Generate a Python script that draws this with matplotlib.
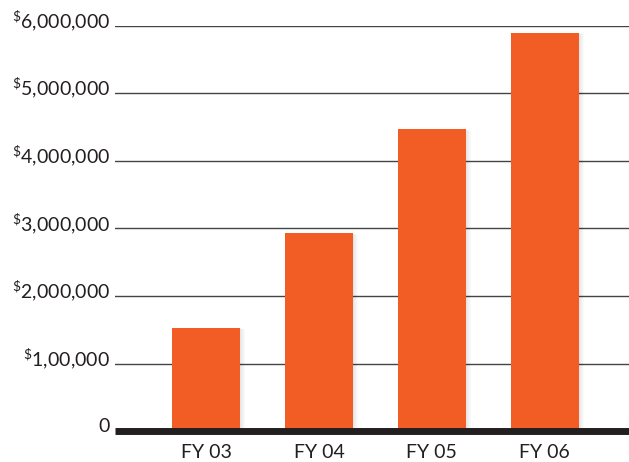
import matplotlib.pyplot as plt
import matplotlib.transforms as mtransforms
import numpy as np

# data
years = ['FY 03', 'FY 04', 'FY 05', 'FY 06']
amounts = [1530000, 2930000, 4470000, 5900000]
yticks = [0, 1000000, 2000000, 3000000, 4000000, 5000000, 6000000]
ylabels = ['0', '1,00,000', '2,000,000', '3,000,000', '4,000,000', '5,000,000', '6,000,000']

bar_color = '#F15D24'

plt.rcParams['font.family'] = ['Lato', 'DejaVu Sans']
plt.rcParams['mathtext.fontset'] = 'custom'
plt.rcParams['mathtext.rm'] = 'Lato'

fig = plt.figure(figsize=(6.29, 4.62), dpi=100)
ax = fig.add_axes([0.183, 0.067, 0.817, 0.877])

x = np.arange(len(years))

# soft shadow behind bars
for k in range(5):
    off = mtransforms.ScaledTranslation((k + 1) * 0.01, -k * 0.004, fig.dpi_scale_trans)
    ax.bar(x, amounts, width=0.6, color='black', alpha=0.018,
           transform=ax.transData + off, zorder=1)
ax.bar(x, amounts, width=0.6, color=bar_color, zorder=2)

# gridlines
for v in yticks[1:]:
    ax.axhline(v, color='#444444', lw=1.0, zorder=0)
ax.axhline(0, color='#231F20', lw=5, zorder=3, clip_on=False, solid_capstyle='butt')

ax.set_xlim(-0.805, 3.745)
ax.set_ylim(0, 6000000)

for s in ax.spines.values():
    s.set_visible(False)
ax.set_yticks([])
ax.set_xticks(x)
ax.set_xticklabels(years, fontsize=14, color='#231F20')
ax.tick_params(axis='x', length=0, pad=9)

# y labels with superscript dollar
lift = mtransforms.ScaledTranslation(-0.05, 0.045, fig.dpi_scale_trans)
for v, lab in zip(yticks, ylabels):
    txt = lab if v == 0 else r'$^{\$}$' + lab
    ax.text(0, v, txt, transform=mtransforms.blended_transform_factory(ax.transAxes, ax.transData) + lift,
            ha='right', va='center', fontsize=14, color='#231F20', clip_on=False)

fig.savefig('out.png', dpi=100)
